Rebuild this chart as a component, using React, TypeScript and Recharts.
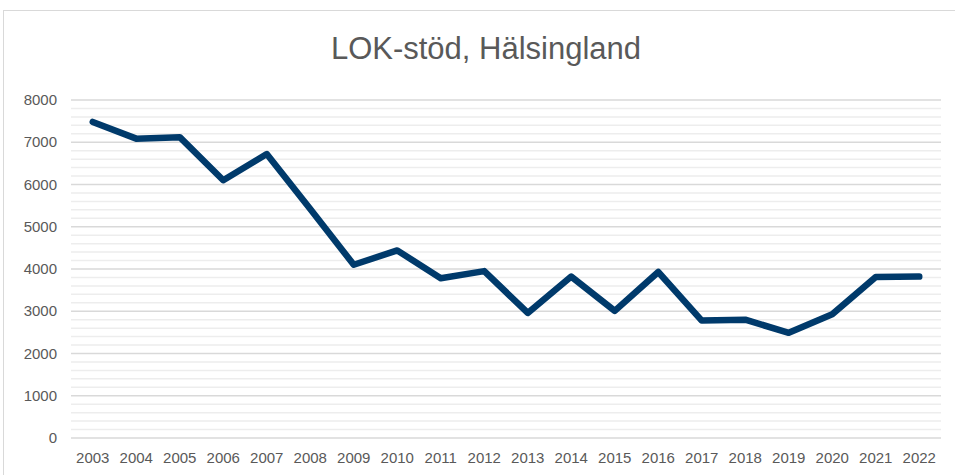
import React from "react";
import {
  LineChart,
  Line,
  XAxis,
  YAxis,
  CartesianGrid,
} from "recharts";

const years = [
  "2003", "2004", "2005", "2006", "2007", "2008", "2009", "2010", "2011", "2012",
  "2013", "2014", "2015", "2016", "2017", "2018", "2019", "2020", "2021", "2022",
];
const lokStod = [
  7480, 7085, 7120, 6100, 6720, 5420, 4100, 4440, 3780, 3950,
  2960, 3820, 3010, 3930, 2780, 2800, 2490, 2930, 3810, 3820,
];
const majorTicks = [0, 1000, 2000, 3000, 4000, 5000, 6000, 7000, 8000];
const minorTicks = [
  200, 400, 600, 800, 1200, 1400, 1600, 1800, 2200, 2400, 2600, 2800,
  3200, 3400, 3600, 3800, 4200, 4400, 4600, 4800, 5200, 5400, 5600, 5800,
  6200, 6400, 6600, 6800, 7200, 7400, 7600, 7800,
];

const data = years.map((year, i) => ({ year, value: lokStod[i] }));

const FONT = "'Liberation Sans', Arial, sans-serif";
const TEXT = "#595959";

// eslint-disable-next-line @typescript-eslint/no-explicit-any
const YTick = (props: any) => {
  const { x, y, payload } = props;
  return (
    <text x={x} y={y + 5} textAnchor="end" fill={TEXT} fontSize={15} fontFamily={FONT}>
      {payload.value}
    </text>
  );
};

// eslint-disable-next-line @typescript-eslint/no-explicit-any
const XTick = (props: any) => {
  const { x, y, payload } = props;
  return (
    <text x={x} y={y + 25} textAnchor="middle" fill={TEXT} fontSize={15} fontFamily={FONT}>
      {payload.value}
    </text>
  );
};

export default function App() {
  return (
    <div style={{ position: "absolute", left: 0, top: 0, width: 955, height: 475, overflow: "hidden", background: "#fff" }}>
      <div
        style={{
          position: "absolute",
          left: 3,
          top: 10,
          width: 980,
          height: 500,
          border: "1px solid #d9d9d9",
        }}
      />
      <div style={{ position: "absolute", left: 0, top: 0 }}>
        <LineChart
          width={955}
          height={475}
          data={data}
          margin={{ top: 100, right: 14, bottom: 7, left: 0 }}
        >
          <text x={486} y={59} textAnchor="middle" fill={TEXT} fontSize={31} fontFamily={FONT}>
            LOK-stöd, Hälsingland
          </text>
          {/* light minor lines every 200, darker major lines every 1000 */}
          <CartesianGrid vertical={false} horizontalValues={minorTicks} stroke="#ededed" strokeWidth={1.5} />
          <CartesianGrid vertical={false} horizontalValues={majorTicks} stroke="#d9d9d9" strokeWidth={1.5} />
          <XAxis
            dataKey="year"
            axisLine={false}
            tickLine={false}
            tickSize={0}
            tickMargin={0}
            height={30}
            interval={0}
            padding={{ left: 21.75, right: 21.75 }}
            tick={XTick}
          />
          <YAxis
            width={71}
            domain={[0, 8000]}
            ticks={majorTicks}
            interval={0}
            axisLine={false}
            tickLine={false}
            tickSize={0}
            tickMargin={14}
            tick={YTick}
          />
          <Line
            type="linear"
            dataKey="value"
            stroke="#003a6b"
            strokeWidth={6.5}
            strokeLinejoin="round"
            strokeLinecap="round"
            dot={false}
            activeDot={false}
            isAnimationActive={false}
          />
        </LineChart>
      </div>
    </div>
  );
}
